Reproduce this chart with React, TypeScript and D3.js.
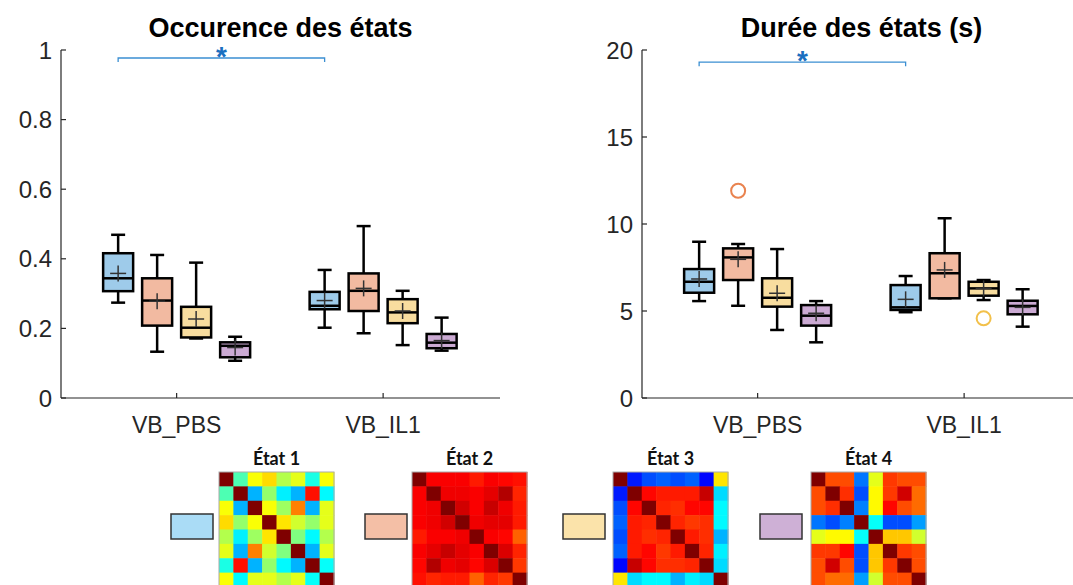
import React from "react";
import * as d3 from "d3";

// ---------- data ----------
const groups = ["VB_PBS", "VB_IL1"];
const states = ["État 1", "État 2", "État 3", "État 4"];
const boxFills = ["#9ecbea", "#f2baa1", "#f8dd9f", "#cbaad3"];
const legendFills = ["#aadcf6", "#f4bfa6", "#fbe3aa", "#ceb0d6"];

// stats per state: [whiskerLow, q1, median, q3, whiskerHigh, mean]
const occPBS = [
  [0.274, 0.307, 0.344, 0.416, 0.469, 0.358],
  [0.133, 0.208, 0.28, 0.344, 0.411, 0.278],
  [0.171, 0.174, 0.202, 0.262, 0.389, 0.227],
  [0.107, 0.117, 0.15, 0.16, 0.176, 0.145],
];
const occIL1 = [
  [0.202, 0.255, 0.265, 0.305, 0.368, 0.28],
  [0.186, 0.25, 0.308, 0.358, 0.494, 0.315],
  [0.152, 0.215, 0.246, 0.284, 0.308, 0.25],
  [0.136, 0.143, 0.159, 0.184, 0.231, 0.165],
];
const durPBS = [
  [5.57, 6.05, 6.68, 7.41, 8.98, 6.84],
  [5.3, 6.78, 8.08, 8.6, 8.85, 7.97],
  [3.91, 5.25, 5.76, 6.88, 8.56, 6.02],
  [3.2, 4.16, 4.73, 5.34, 5.57, 4.87],
];
const durIL1 = [
  [4.93, 5.06, 5.21, 6.49, 7.01, 5.67],
  [5.73, 5.73, 7.17, 8.32, 10.33, 7.36],
  [5.63, 5.88, 6.3, 6.68, 6.78, 6.3],
  [4.1, 4.81, 5.29, 5.59, 6.25, 5.21],
];
// outliers: [groupIndex, stateIndex, value]
const occOutliers: number[][] = [];
const durOutliers = [
  [0, 1, 11.91],
  [1, 2, 4.58],
];
const occTicks = [0, 0.2, 0.4, 0.6, 0.8, 1];
const durTicks = [0, 5, 10, 15, 20];
const outlierColors = ["#e9834f", "#e9834f", "#f2c04a", "#b48cc0"];

// correlation matrices (jet colormap values)
const mat1 = [
  [1, 0.45, 0.62, 0.66, 0.55, 0.6, 0.4, 0.62],
  [0.45, 1, 0.3, 0.52, 0.36, 0.3, 0.86, 0.37],
  [0.62, 0.3, 1, 0.62, 0.53, 0.75, 0.3, 0.6],
  [0.66, 0.52, 0.62, 1, 0.65, 0.58, 0.52, 0.6],
  [0.55, 0.36, 0.53, 0.65, 1, 0.5, 0.37, 0.55],
  [0.6, 0.3, 0.75, 0.58, 0.5, 1, 0.3, 0.6],
  [0.4, 0.86, 0.3, 0.52, 0.37, 0.3, 1, 0.38],
  [0.62, 0.37, 0.6, 0.6, 0.55, 0.6, 0.38, 1],
];
const mat2 = [
  [1, 0.88, 0.88, 0.88, 0.85, 0.88, 0.87, 0.86],
  [0.88, 1, 0.89, 0.89, 0.88, 0.9, 0.95, 0.84],
  [0.88, 0.89, 1, 0.92, 0.88, 0.93, 0.89, 0.85],
  [0.88, 0.89, 0.92, 1, 0.89, 0.9, 0.9, 0.85],
  [0.85, 0.88, 0.88, 0.89, 1, 0.88, 0.87, 0.78],
  [0.88, 0.9, 0.93, 0.9, 0.88, 1, 0.91, 0.84],
  [0.87, 0.95, 0.89, 0.9, 0.87, 0.91, 1, 0.82],
  [0.86, 0.84, 0.85, 0.85, 0.78, 0.84, 0.82, 1],
];
const mat3 = [
  [1, 0.15, 0.2, 0.22, 0.2, 0.22, 0.13, 0.65],
  [0.15, 1, 0.87, 0.85, 0.85, 0.85, 0.93, 0.34],
  [0.2, 0.87, 1, 0.84, 0.83, 0.87, 0.87, 0.37],
  [0.22, 0.85, 0.84, 1, 0.84, 0.82, 0.83, 0.37],
  [0.2, 0.85, 0.83, 0.84, 1, 0.85, 0.83, 0.3],
  [0.22, 0.85, 0.87, 0.82, 0.85, 1, 0.84, 0.36],
  [0.13, 0.93, 0.87, 0.83, 0.83, 0.84, 1, 0.34],
  [0.65, 0.34, 0.37, 0.37, 0.3, 0.36, 0.34, 1],
];
const mat4 = [
  [1, 0.8, 0.8, 0.24, 0.6, 0.82, 0.8, 0.8],
  [0.8, 1, 0.83, 0.2, 0.63, 0.82, 0.92, 0.77],
  [0.8, 0.83, 1, 0.25, 0.63, 0.87, 0.8, 0.77],
  [0.24, 0.2, 0.25, 1, 0.38, 0.2, 0.2, 0.28],
  [0.6, 0.63, 0.63, 0.38, 1, 0.68, 0.68, 0.58],
  [0.82, 0.82, 0.87, 0.2, 0.68, 1, 0.82, 0.8],
  [0.8, 0.92, 0.8, 0.2, 0.68, 0.82, 1, 0.8],
  [0.8, 0.77, 0.77, 0.28, 0.58, 0.8, 0.8, 1],
];
const matrices = [mat1, mat2, mat3, mat4];

// ---------- layout ----------
const W = 1073;
const H = 585;
const plotTop = 50;
const plotBottom = 398;
const plotW = 439;
const axisColor = "#262626";
const FONT = "'Liberation Sans', Arial, sans-serif";

const jet = d3
  .scaleLinear<string>()
  .domain([0, 0.125, 0.375, 0.625, 0.875, 1])
  .range(["#00007f", "#0000ff", "#00ffff", "#ffff00", "#ff0000", "#7f0000"]);

type PanelProps = {
  left: number;
  title: string;
  yMax: number;
  ticks: number[];
  stats: number[][][];
  outliers: number[][];
  bracketY: number;
};

function Panel({ left, title, yMax, ticks, stats, outliers, bracketY }: PanelProps) {
  const y = d3.scaleLinear().domain([0, yMax]).range([plotBottom, plotTop]);
  const x = d3.scaleLinear().domain([-0.56, 1.566]).range([left, left + plotW]);
  const off = d3.scaleBand<number>().domain([0, 1, 2, 3]).range([-78, 78]);
  const bw = 30;
  const cap = 14;
  const cx = (g: number, s: number) => x(g) + (off(s) ?? 0) + off.bandwidth() / 2;
  const x1 = cx(0, 0);
  const x2 = cx(1, 0);
  const by = y(bracketY);
  return (
    <g>
      <text
        x={left + plotW / 2}
        y={37}
        textAnchor="middle"
        fontFamily={FONT}
        fontWeight="bold"
        fontSize={27}
        fill="#000"
      >
        {title}
      </text>
      {/* axes */}
      <line x1={left} x2={left} y1={plotTop} y2={plotBottom} stroke={axisColor} strokeWidth={1.2} />
      <line x1={left} x2={left + plotW} y1={plotBottom} y2={plotBottom} stroke={axisColor} strokeWidth={1.2} />
      {ticks.map((t) => (
        <g key={t}>
          <line x1={left} x2={left + 5} y1={y(t)} y2={y(t)} stroke={axisColor} strokeWidth={1.2} />
          <text
            x={left - 9}
            y={y(t)}
            dy="0.36em"
            textAnchor="end"
            fontFamily={FONT}
            fontSize={24}
            fill={axisColor}
          >
            {String(t)}
          </text>
        </g>
      ))}
      {groups.map((g, gi) => (
        <g key={g}>
          <line x1={x(gi)} x2={x(gi)} y1={plotBottom} y2={plotBottom - 5} stroke={axisColor} strokeWidth={1.2} />
          <text
            x={x(gi)}
            y={433}
            textAnchor="middle"
            fontFamily={FONT}
            fontSize={23}
            fill={axisColor}
          >
            {g}
          </text>
        </g>
      ))}
      {/* boxes */}
      {stats.map((grp, gi) =>
        grp.map((s, si) => {
          const [lo, q1, med, q3, hi, mean] = s;
          const c = cx(gi, si);
          return (
            <g key={`${gi}-${si}`}>
              <line x1={c} x2={c} y1={y(hi)} y2={y(q3)} stroke="#000" strokeWidth={2.5} />
              <line x1={c} x2={c} y1={y(q1)} y2={y(lo)} stroke="#000" strokeWidth={2.5} />
              <line x1={c - cap / 2} x2={c + cap / 2} y1={y(hi)} y2={y(hi)} stroke="#000" strokeWidth={2.5} />
              <line x1={c - cap / 2} x2={c + cap / 2} y1={y(lo)} y2={y(lo)} stroke="#000" strokeWidth={2.5} />
              <rect
                x={c - bw / 2}
                y={y(q3)}
                width={bw}
                height={Math.max(1, y(q1) - y(q3))}
                fill={boxFills[si]}
                stroke="#000"
                strokeWidth={2.5}
              />
              <line x1={c - bw / 2} x2={c + bw / 2} y1={y(med)} y2={y(med)} stroke="#000" strokeWidth={2.5} />
              <line x1={c - 8} x2={c + 8} y1={y(mean)} y2={y(mean)} stroke="#333" strokeWidth={1.5} />
              <line x1={c} x2={c} y1={y(mean) - 8} y2={y(mean) + 8} stroke="#333" strokeWidth={1.5} />
            </g>
          );
        })
      )}
      {outliers.map(([gi, si, v], i) => (
        <circle
          key={i}
          cx={cx(gi, si)}
          cy={y(v)}
          r={7}
          fill="none"
          stroke={outlierColors[si]}
          strokeWidth={2}
        />
      ))}
      {/* significance bracket */}
      <path
        d={`M${x1},${by + 4}V${by}H${x2}V${by + 4}`}
        fill="none"
        stroke="#3b8fd2"
        strokeWidth={1.3}
      />
      <text
        x={(x1 + x2) / 2}
        y={by + 8}
        textAnchor="middle"
        fontFamily={FONT}
        fontWeight="bold"
        fontSize={28}
        fill="#1a6fc0"
      >
        *
      </text>
    </g>
  );
}

function Matrix({ m, left, label, legendX, fill }: { m: number[][]; left: number; label: string; legendX: number; fill: string }) {
  const n = m.length;
  const size = 115;
  const top = 472;
  const b = d3.scaleBand<number>().domain(d3.range(n)).range([0, size]);
  return (
    <g>
      <rect x={legendX} y={514} width={42} height={25} fill={fill} stroke="#333" strokeWidth={1.5} />
      <text
        x={left + size / 2}
        y={465}
        textAnchor="middle"
        fontFamily="Lato, 'Open Sans', sans-serif"
        fontWeight="bold"
        fontSize={18}
        fill="#111"
      >
        {label}
      </text>
      <g transform={`translate(${left},${top})`}>
        {m.map((row, r) =>
          row.map((v, c) => (
            <rect
              key={`${r}-${c}`}
              x={b(c)}
              y={b(r)}
              width={b.bandwidth() + 0.5}
              height={b.bandwidth() + 0.5}
              fill={jet(v)}
            />
          ))
        )}
        <rect x={0} y={0} width={size} height={size} fill="none" stroke="#aaa" strokeWidth={1} />
      </g>
    </g>
  );
}

const matLefts = [219, 412, 613, 811];
const legendXs = [171, 365, 563, 760];

export default function App() {
  return (
    <svg
      width={W}
      height={H}
      viewBox={`0 0 ${W} ${H}`}
      style={{ position: "absolute", left: 0, top: 0, background: "#fff" }}
    >
      <rect width={W} height={H} fill="#fff" />
      <Panel
        left={61}
        title="Occurence des états"
        yMax={1}
        ticks={occTicks}
        stats={[occPBS, occIL1]}
        outliers={occOutliers}
        bracketY={0.977}
      />
      <Panel
        left={642}
        title="Durée des états (s)"
        yMax={20}
        ticks={durTicks}
        stats={[durPBS, durIL1]}
        outliers={durOutliers}
        bracketY={19.3}
      />
      {matrices.map((m, i) => (
        <Matrix key={i} m={m} left={matLefts[i]} label={states[i]} legendX={legendXs[i]} fill={legendFills[i]} />
      ))}
    </svg>
  );
}
